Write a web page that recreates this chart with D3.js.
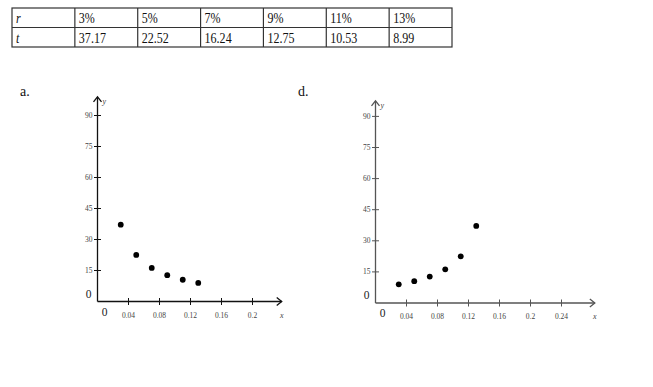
<!DOCTYPE html>
<html>
<head>
<meta charset="utf-8">
<script src="https://cdn.jsdelivr.net/npm/d3@7"></script>
<style>
  body { margin: 0; background: #fff; }
  text { font-family: "Liberation Serif", "Times New Roman", serif; }
</style>
</head>
<body>
<svg id="chart" width="653" height="387"></svg>
<script>
// table data
const rLabels = ["3%", "5%", "7%", "9%", "11%", "13%"];
const tLabels = ["37.17", "22.52", "16.24", "12.75", "10.53", "8.99"];

// points
const rValues = [0.03, 0.05, 0.07, 0.09, 0.11, 0.13];
const tValues = [37.17, 22.52, 16.24, 12.75, 10.53, 8.99];
const tReversed = tValues.slice().reverse();

const yTicks = [15, 30, 45, 60, 75, 90];
const xTicksA = [0.04, 0.08, 0.12, 0.16, 0.2];
const xTicksD = [0.04, 0.08, 0.12, 0.16, 0.2, 0.24];

const svg = d3.select("#chart");

// ---- table ----
const table = svg.append("g");
const colX = d3.scaleLinear().domain([0, 7]).range([12, 452]);
const rowY = d3.scaleLinear().domain([0, 2]).range([8, 47]);
const rows = [["r"].concat(rLabels), ["t"].concat(tLabels)];

table.append("rect")
  .attr("x", colX(0)).attr("y", rowY(0))
  .attr("width", colX(7) - colX(0)).attr("height", rowY(2) - rowY(0))
  .attr("fill", "none").attr("stroke", "#333").attr("stroke-width", 1.2);
table.append("line")
  .attr("x1", colX(0)).attr("x2", colX(7))
  .attr("y1", rowY(1)).attr("y2", rowY(1))
  .attr("stroke", "#333").attr("stroke-width", 1.2);
table.selectAll(".col").data(d3.range(1, 7)).enter().append("line")
  .attr("x1", d => colX(d)).attr("x2", d => colX(d))
  .attr("y1", rowY(0)).attr("y2", rowY(2))
  .attr("stroke", "#333").attr("stroke-width", 1.2);
rows.forEach((row, ri) => {
  table.selectAll(".cell" + ri).data(row).enter().append("text")
    .attr("transform", (d, i) => `translate(${colX(i) + 4},${rowY(ri) + 15}) scale(0.86,1)`)
    .attr("font-size", 14)
    .attr("font-style", (d, i) => i == 0 ? "italic" : "normal")
    .attr("fill", "#111")
    .text(d => d);
});

// ---- graphs ----
function makeGraph(opts) {
  const g = svg.append("g");
  const x = d3.scaleLinear().domain([0, 0.04]).range([opts.ox, opts.ox + 31]);
  const y = d3.scaleLinear().domain([0, 15]).range([opts.oy, opts.oy - opts.ystep]);
  const axisColor = opts.axisColor;

  g.append("text").attr("x", opts.labelX).attr("y", 96)
    .attr("font-size", 14).attr("fill", "#111").text(opts.label);

  // axes lines
  g.append("line")
    .attr("x1", x(0)).attr("x2", x(opts.xEnd))
    .attr("y1", y(0)).attr("y2", y(0))
    .attr("stroke", axisColor).attr("stroke-width", 1.3);
  g.append("line")
    .attr("x1", x(0)).attr("x2", x(0))
    .attr("y1", y(0)).attr("y2", y(opts.yEnd))
    .attr("stroke", axisColor).attr("stroke-width", 1.3);

  // arrow heads
  const xe = x(opts.xEnd), ye = y(opts.yEnd);
  g.append("path")
    .attr("d", `M${xe - 5},${y(0) - 4}L${xe},${y(0)}L${xe - 5},${y(0) + 4}`)
    .attr("fill", "none").attr("stroke", axisColor).attr("stroke-width", 1.3);
  g.append("path")
    .attr("d", `M${x(0) - 4},${ye + 5}L${x(0)},${ye}L${x(0) + 4},${ye + 5}`)
    .attr("fill", "none").attr("stroke", axisColor).attr("stroke-width", 1.3);

  // x ticks
  g.selectAll(".xt").data(opts.xTicks).enter().append("line")
    .attr("x1", d => x(d)).attr("x2", d => x(d))
    .attr("y1", y(0) - 3.5).attr("y2", y(0) + 3.5)
    .attr("stroke", axisColor).attr("stroke-width", 1);
  g.selectAll(".xl").data(opts.xTicks).enter().append("text")
    .attr("x", d => x(d)).attr("y", y(0) + 16)
    .attr("text-anchor", "middle").attr("font-size", 7.5).attr("fill", "#444")
    .text(d => d3.format("")(d));

  // y ticks
  g.selectAll(".yt").data(yTicks).enter().append("line")
    .attr("x1", x(0) - 3.5).attr("x2", x(0) + 3.5)
    .attr("y1", d => y(d)).attr("y2", d => y(d))
    .attr("stroke", axisColor).attr("stroke-width", 1);
  g.selectAll(".yl").data(yTicks).enter().append("text")
    .attr("x", x(0) - 5).attr("y", d => y(d) + 2.5)
    .attr("text-anchor", "end").attr("font-size", 7.5).attr("fill", "#444")
    .text(d => d);

  // zero labels
  g.append("text").attr("x", x(0) - 6).attr("y", y(0) - 4)
    .attr("text-anchor", "end").attr("font-size", 11.5).attr("fill", "#222").text("0");
  g.append("text").attr("x", x(0) + 7).attr("y", y(0) + 14)
    .attr("text-anchor", "middle").attr("font-size", 11.5).attr("fill", "#222").text("0");

  // axis names
  g.append("text").attr("x", xe).attr("y", y(0) + 16)
    .attr("text-anchor", "middle").attr("font-size", 8).attr("font-style", "italic")
    .attr("fill", "#444").text("x");
  g.append("text").attr("x", x(0) + 5).attr("y", ye + 7)
    .attr("font-size", 8).attr("font-style", "italic")
    .attr("fill", "#444").text("y");

  // points
  g.selectAll(".pt").data(opts.xs).enter().append("circle")
    .attr("cx", d => x(d)).attr("cy", (d, i) => y(opts.ys[i]))
    .attr("r", 2.9).attr("fill", "#000");
}

makeGraph({
  label: "a.", labelX: 20, ox: 97.5, oy: 301.5, ystep: 31,
  xEnd: 0.2377, yEnd: 99, xTicks: xTicksA, axisColor: "#111",
  xs: rValues, ys: tValues
});
makeGraph({
  label: "d.", labelX: 298, ox: 375.5, oy: 303, ystep: 31.1,
  xEnd: 0.283, yEnd: 97.5, xTicks: xTicksD, axisColor: "#555",
  xs: rValues, ys: tReversed
});
</script>
</body>
</html>
